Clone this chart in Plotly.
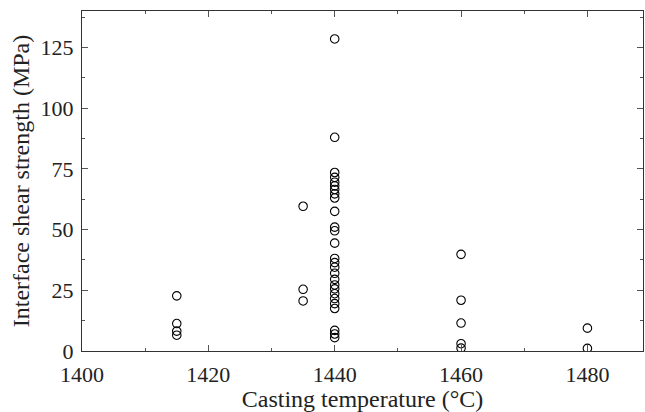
import plotly.graph_objects as go

temp_1415 = [22.7, 11.3, 8.2, 6.5]
temp_1435 = [59.6, 25.4, 20.6]
temp_1440 = [128.5, 88.0, 73.5, 71.5, 69.5, 68.0, 66.5, 64.7, 63.0, 57.5, 51.0,
             49.5, 44.4, 38.1, 36.4, 34.5, 32.0, 29.5, 27.2, 25.6, 23.6, 21.6,
             19.5, 17.5, 8.5, 7.0, 5.5]
temp_1460 = [39.8, 20.9, 11.5, 3.0, 1.2]
temp_1480 = [9.4, 1.1]

groups = {1415: temp_1415, 1435: temp_1435, 1440: temp_1440,
          1460: temp_1460, 1480: temp_1480}

xs, ys = [], []
for t, vals in groups.items():
    xs += [t] * len(vals)
    ys += vals

font_family = "Liberation Serif"

fig = go.Figure(go.Scatter(
    x=xs, y=ys, mode="markers",
    marker=dict(symbol="circle-open", size=8.5, color="black", line=dict(width=1.1)),
))

axis_common = dict(
    showgrid=False, zeroline=False, showline=True, linecolor="#333333", linewidth=1.3,
    mirror="ticks", ticks="inside", ticklen=6, tickwidth=1, tickcolor="#555555",
    tickfont=dict(family=font_family, size=22, color="#222222"),
)

fig.update_layout(
    width=645, height=412,
    margin=dict(l=82, r=2, t=11, b=61),
    plot_bgcolor="white", paper_bgcolor="white",
    showlegend=False,
    font=dict(family=font_family),
    xaxis=dict(
        range=[1400, 1488.8], tickvals=[1400, 1420, 1440, 1460, 1480],
        minor=dict(tickvals=[1410, 1430, 1450, 1470], ticklen=3, ticks="inside", tickcolor="#555555"),
        title=dict(text="Casting temperature (°C)", font=dict(family=font_family, size=24, color="#222222"), standoff=4),
        ticklabelstandoff=3,
        **axis_common,
    ),
    yaxis=dict(
        range=[0, 140], tickvals=[0, 25, 50, 75, 100, 125],
        minor=dict(tickvals=[12.5, 37.5, 62.5, 87.5, 112.5, 137.5], ticklen=3, ticks="inside", tickcolor="#555555"),
        title=dict(text="Interface shear strength (MPa)", font=dict(family=font_family, size=24, color="#222222"), standoff=4),
        ticklabelstandoff=3,
        **axis_common,
    ),
)

fig.write_html("out.html")
